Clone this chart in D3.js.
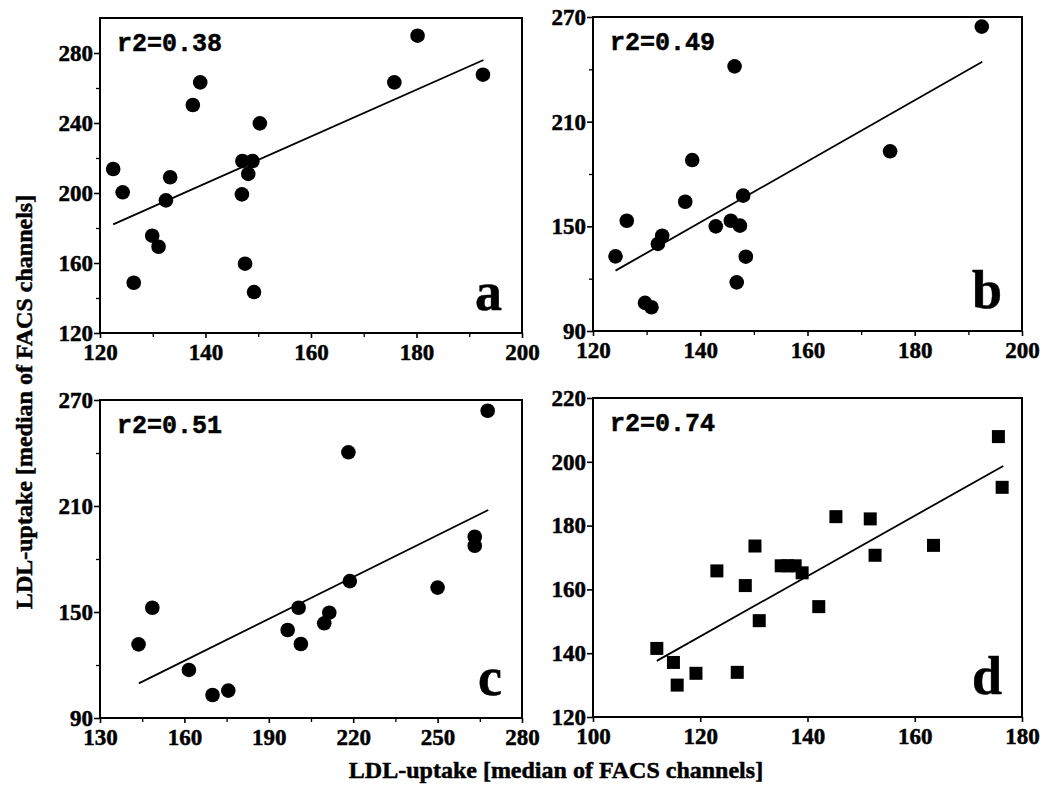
<!DOCTYPE html>
<html>
<head>
<meta charset="utf-8">
<script src="https://cdn.jsdelivr.net/npm/d3@7"></script>
<style>
  body { margin: 0; background: #fff; }
  text { font-family: "Liberation Serif", "Times New Roman", serif; font-weight: bold; fill: #000;
         stroke: #000; stroke-width: 0.5px; }
</style>
</head>
<body>
<svg width="1043" height="799"></svg>
<script>
// values (x = LDL-uptake, y = LDL-uptake)
const aX = [122.5, 124.3, 126.4, 129.9, 131.1, 132.5, 133.3, 137.6, 139.0, 146.9, 147.0, 148.9, 148.1, 147.5, 149.2, 150.3, 175.8, 180.2, 192.6];
const aY = [213.7, 200.4, 148.7, 175.6, 169.3, 195.8, 209.0, 250.3, 263.2, 199.2, 218.3, 218.3, 210.9, 159.6, 143.4, 239.8, 263.2, 289.9, 267.6];
const aFit = [[122.5, 182.1], [192.7, 276.0]];

const bX = [124.2, 126.3, 129.7, 130.9, 132.1, 132.9, 137.2, 138.5, 142.9, 145.7, 147.4, 146.4, 146.8, 148.0, 148.5, 175.4, 192.5];
const bY = [132.8, 153.2, 106.1, 103.6, 139.9, 144.6, 164.1, 188.0, 150.0, 153.2, 150.4, 241.7, 117.9, 167.6, 132.6, 193.0, 264.5];
const bFit = [[124.2, 124.6], [192.6, 244.4]];

const cX = [143.7, 148.6, 161.6, 170.0, 175.6, 196.7, 200.6, 201.4, 209.7, 211.5, 218.3, 218.8, 250.0, 263.2, 263.2, 267.8];
const cY = [131.7, 152.4, 117.2, 103.0, 105.5, 139.8, 152.4, 131.9, 143.6, 149.6, 240.4, 167.5, 163.8, 192.6, 187.5, 263.9];
const cFit = [[143.8, 109.6], [268.0, 207.7]];

const dX = [111.9, 115.0, 115.7, 119.2, 123.1, 126.9, 128.4, 130.2, 131.0, 135.1, 136.3, 137.7, 139.0, 142.1, 145.3, 151.7, 152.6, 163.5, 175.6, 176.3];
const dY = [141.5, 137.1, 130.0, 133.7, 165.8, 134.0, 161.2, 173.6, 150.2, 167.4, 167.4, 167.4, 165.2, 154.6, 182.8, 182.1, 170.7, 173.8, 207.9, 192.0];
const dFit = [[111.9, 137.6], [176.5, 198.7]];

const r2Labels = ["r2=0.38", "r2=0.49", "r2=0.51", "r2=0.74"];

// tick values
const xTicksAB = [120, 140, 160, 180, 200];
const xMinorAB = [130, 150, 170, 190];
const yTicksA = [120, 160, 200, 240, 280];
const yMinorA = [140, 180, 220, 260];
const yTicksBC = [90, 150, 210, 270];
const yMinorBC = [120, 180, 240];
const xTicksC = [130, 160, 190, 220, 250, 280];
const xMinorC = [145, 175, 205, 235, 265];
const xTicksD = [100, 120, 140, 160, 180];
const yTicksD = [120, 140, 160, 180, 200, 220];

const axisTitle = "LDL-uptake [median of FACS channels]";

// layout of the four panels
const panels = [
  { id: "a", xs: aX, ys: aY, fit: aFit, r2: r2Labels[0], xd: [120, 200], yd: [120, 300],
    xt: xTicksAB, xm: xMinorAB, yt: yTicksA, ym: yMinorA, shape: "circle", box: [100, 18, 522, 333] },
  { id: "b", xs: bX, ys: bY, fit: bFit, r2: r2Labels[1], xd: [120, 200], yd: [90, 270],
    xt: xTicksAB, xm: xMinorAB, yt: yTicksBC, ym: yMinorBC, shape: "circle", box: [593, 17, 1022, 331] },
  { id: "c", xs: cX, ys: cY, fit: cFit, r2: r2Labels[2], xd: [130, 280], yd: [90, 270],
    xt: xTicksC, xm: xMinorC, yt: yTicksBC, ym: yMinorBC, shape: "circle", box: [100, 400, 522, 718] },
  { id: "d", xs: dX, ys: dY, fit: dFit, r2: r2Labels[3], xd: [100, 180], yd: [120, 220],
    xt: xTicksD, xm: [], yt: yTicksD, ym: [], shape: "square", box: [593, 398, 1022, 717] }
];

const svg = d3.select("svg");
svg.append("rect").attr("width", 1043).attr("height", 799).attr("fill", "#fff");

function drawPanel(p) {
  const [x0, y0, x1, y1] = p.box;
  const x = d3.scaleLinear().domain(p.xd).range([x0, x1]);
  const y = d3.scaleLinear().domain(p.yd).range([y1, y0]);

  // x axis with minor ticks
  const gx = svg.append("g")
    .attr("transform", `translate(0, ${y1})`)
    .call(d3.axisBottom(x).tickValues(p.xt).tickSize(5).tickPadding(6).tickFormat(d3.format("d")));
  gx.selectAll("line").attr("stroke-width", 1.6);
  gx.selectAll("text").style("font-size", "23px").attr("fill", "#000");
  gx.select(".domain").remove();
  svg.append("g")
    .attr("transform", `translate(0, ${y1})`)
    .call(d3.axisBottom(x).tickValues(p.xm).tickSize(4).tickFormat(""))
    .call(g => g.select(".domain").remove())
    .selectAll("line").attr("stroke-width", 1.3);

  // y axis
  const gy = svg.append("g")
    .attr("transform", `translate(${x0}, 0)`)
    .call(d3.axisLeft(y).tickValues(p.yt).tickSize(6).tickPadding(1).tickFormat(d3.format("d")));
  gy.selectAll("line").attr("stroke-width", 1.6);
  gy.selectAll("text").style("font-size", "23px").attr("fill", "#000");
  gy.select(".domain").remove();
  svg.append("g")
    .attr("transform", `translate(${x0}, 0)`)
    .call(d3.axisLeft(y).tickValues(p.ym).tickSize(4).tickFormat(""))
    .call(g => g.select(".domain").remove())
    .selectAll("line").attr("stroke-width", 1.3);

  // frame
  svg.append("rect")
    .attr("x", x0).attr("y", y0)
    .attr("width", x1 - x0).attr("height", y1 - y0)
    .attr("fill", "none").attr("stroke", "#000").attr("stroke-width", 2);

  // regression line
  svg.append("path")
    .datum(p.fit)
    .attr("d", d3.line().x(d => x(d[0])).y(d => y(d[1])))
    .attr("fill", "none").attr("stroke", "#000").attr("stroke-width", 1.8);

  const pts = p.xs.map((v, i) => ({ x: v, y: p.ys[i] }));
  if (p.shape === "circle") {
    svg.append("g").selectAll("circle").data(pts).enter()
      .append("circle")
      .attr("cx", d => x(d.x)).attr("cy", d => y(d.y))
      .attr("r", 7.3).attr("fill", "#000");
  } else {
    svg.append("g").selectAll("rect").data(pts).enter()
      .append("rect")
      .attr("x", d => x(d.x) - 6.5).attr("y", d => y(d.y) - 6.5)
      .attr("width", 13).attr("height", 13).attr("fill", "#000");
  }

  // r2 label and panel letter
  svg.append("text")
    .attr("x", x0 + 17).attr("y", y0 + 33)
    .style("font-family", "'Liberation Mono', monospace")
    .style("font-size", "25px")
    .text(p.r2);

  svg.append("text")
    .attr("x", x1 - 20).attr("y", y1 - 23)
    .attr("text-anchor", "end")
    .style("font-size", "54px")
    .text(p.id);
}

panels.forEach(drawPanel);

// shared axis titles
svg.append("text")
  .attr("transform", "translate(32, 402) rotate(-90)")
  .attr("text-anchor", "middle")
  .style("font-size", "24px")
  .text(axisTitle);

svg.append("text")
  .attr("x", 556).attr("y", 778)
  .attr("text-anchor", "middle")
  .style("font-size", "24px")
  .text(axisTitle);
</script>
</body>
</html>
